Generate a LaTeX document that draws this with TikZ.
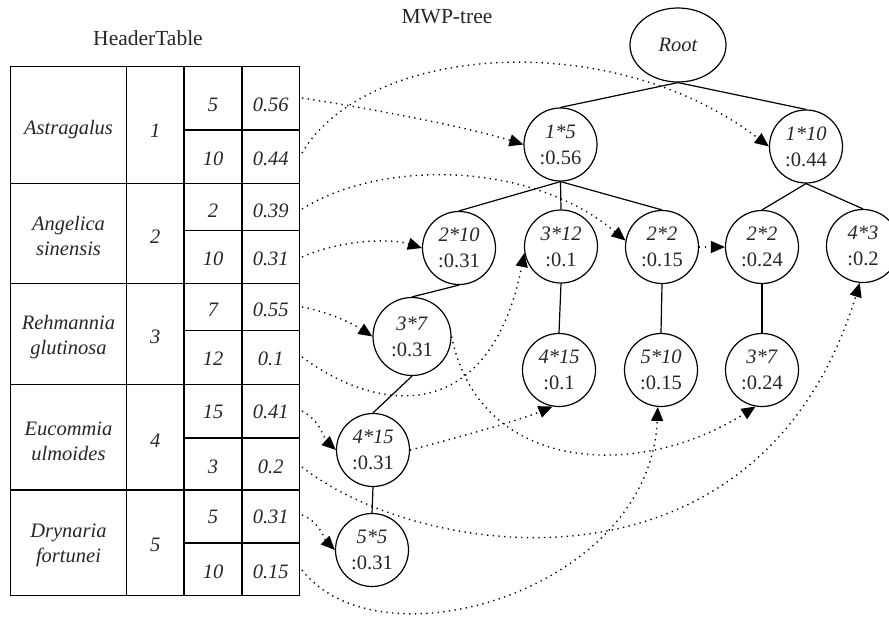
\documentclass[tikz,border=0pt]{standalone}
\usepackage{fontspec}
\setmainfont{Liberation Serif}
\usetikzlibrary{arrows.meta,shapes.geometric}
\begin{document}
\begin{tikzpicture}[x=1pt,y=-1pt,
  every node/.style={font=\fontsize{20.5}{26}\selectfont, inner sep=0pt, text=black!85},
  circ/.style={circle, draw, line width=1.2pt, minimum size=73pt, align=center},
  treeedge/.style={line width=1.2pt},
  grid/.style={line width=1.3pt},
  lnk/.style={line width=1.4pt, dash pattern=on 1.3pt off 4.4pt, -{Triangle[length=14pt,width=12pt]}},
  celltext/.style={font=\fontsize{20.5}{25}\selectfont\itshape, align=center},
  titletext/.style={font=\fontsize{21.5}{26}\selectfont},
]
\useasboundingbox (0,0) rectangle (889,629);

% titles
\node[titletext] (ht) at (148,38) {HeaderTable};
\node[titletext] (mt) at (447,17) {MWP-tree};

% table grid
\draw[grid] (10.5,66.7) rectangle (299.5,595.7);
\foreach \xx in {126.5,184,242} \draw[grid] (\xx,66.7) -- (\xx,595.7);
\foreach \yy in {183.7,283.3,384.3,490} \draw[grid] (10.5,\yy) -- (299.5,\yy);
\foreach \yy in {130,230.7,330.7,438,543} \draw[grid] (184,\yy) -- (299.5,\yy);

% table texts
\node[celltext] (h1) at (68.5,130) {Astragalus};
\node[celltext] (h2) at (68.5,236) {Angelica\\sinensis};
\node[celltext] (h3) at (68.5,337) {Rehmannia\\glutinosa};
\node[celltext] (h4) at (68.5,441) {Eucommia\\ulmoides};
\node[celltext] (h5) at (68.5,545) {Drynaria\\fortunei};
\node[celltext] (i1) at (155.3,131) {1};
\node[celltext] (i2) at (155.3,236.7) {2};
\node[celltext] (i3) at (155.3,336.7) {3};
\node[celltext] (i4) at (155.3,441) {4};
\node[celltext] (i5) at (155.3,545) {5};

\node[celltext] (a1) at (213,105) {5};    \node[celltext] (b1) at (270.7,105) {0.56};
\node[celltext] (a2) at (213,158.5) {10}; \node[celltext] (b2) at (270.7,158.5) {0.44};
\node[celltext] (a3) at (213,211) {2};    \node[celltext] (b3) at (270.7,211) {0.39};
\node[celltext] (a4) at (213,259) {10};   \node[celltext] (b4) at (270.7,259) {0.31};
\node[celltext] (a5) at (213,310) {7};    \node[celltext] (b5) at (270.7,310) {0.55};
\node[celltext] (a6) at (213,358.5) {12}; \node[celltext] (b6) at (270.7,358.5) {0.1};
\node[celltext] (a7) at (213,412) {15};   \node[celltext] (b7) at (270.7,412) {0.41};
\node[celltext] (a8) at (213,466.7) {3};  \node[celltext] (b8) at (270.7,466.7) {0.2};
\node[celltext] (a9) at (213,517) {5};    \node[celltext] (b9) at (270.7,517) {0.31};
\node[celltext] (a10) at (213,571.5) {10};\node[celltext] (b10) at (270.7,571.5) {0.15};

% link start points
\coordinate (s1) at (302,98);
\coordinate (s2) at (302,153);
\coordinate (s3) at (302,209);
\coordinate (s4) at (302,257);
\coordinate (s5) at (302,307);
\coordinate (s6) at (302,357);
\coordinate (s7) at (302,411);
\coordinate (s8) at (302,467);
\coordinate (s9) at (302,515);
\coordinate (s10) at (302,570);

% tree nodes
\node[ellipse, draw, line width=1.2pt, minimum width=96pt, minimum height=74pt, font=\fontsize{20.5}{26}\selectfont\itshape] (root) at (678,45) {Root};
\node[circ] (n15)  at (560.5,144.5) {\textit{1*5}\\:0.56};
\node[circ] (n110) at (806,146.5)   {\textit{1*10}\\:0.44};
\node[circ] (n210) at (459,248)     {\textit{2*10}\\:0.31};
\node[circ] (n312) at (561,246.5)   {\textit{3*12}\\:0.1};
\node[circ] (n22a) at (662,247)     {\textit{2*2}\\:0.15};
\node[circ] (n22b) at (762,247)     {\textit{2*2}\\:0.24};
\node[circ] (n43)  at (863,246)     {\textit{4*3}\\:0.2};
\node[circ, minimum size=78pt] (n37a) at (412,336.5) {\textit{3*7}\\:0.31};
\node[circ] (n415m) at (559,370)    {\textit{4*15}\\:0.1};
\node[circ] (n510) at (661,370)     {\textit{5*10}\\:0.15};
\node[circ] (n37b) at (762,370)     {\textit{3*7}\\:0.24};
\node[circ] (n415a) at (373,450)    {\textit{4*15}\\:0.31};
\node[circ] (n55)  at (372,550)     {\textit{5*5}\\:0.31};

% tree edges
\draw[treeedge] (root.south) -- (n15.north);
\draw[treeedge] (root.south) -- (n110.north);
\draw[treeedge] (n15.south) -- (n210.north);
\draw[treeedge] (n15.south) -- (n312.north);
\draw[treeedge] (n15.south) -- (n22a.north);
\draw[treeedge] (n110.south) -- (n22b.north);
\draw[treeedge] (n110.south) -- (n43.north);
\draw[treeedge] (n210.south) -- (n37a.north);
\draw[treeedge] (n312.south) -- (n415m.north);
\draw[treeedge] (n22a.south) -- (n510.north);
\draw[treeedge] (n22b.south) -- (n37b.north);
\draw[treeedge] (n37a.south) -- (n415a.north);
\draw[treeedge] (n415a.south) -- (n55.north);

% dotted links
\draw[lnk] (s1) .. controls (380,110) and (470,128) .. (n15.west);
\draw[lnk] (s2) .. controls (365,45) and (610,25) .. (n110.west);
\draw[lnk] (s3) .. controls (380,160) and (530,160) .. (n22a.170);
\draw[lnk] (s4) .. controls (340,240) and (390,238) .. (n210.west);
\draw[lnk] (n22a.east) -- (n22b.west);
\draw[lnk] (s5) .. controls (330,312) and (355,325) .. (n37a.west);
\draw[lnk] (s6) .. controls (380,415) and (490,425) .. (n312.190);
\draw[lnk] (n37a.east) .. controls (480,475) and (640,480) .. (n37b.-100);
\draw[lnk] (s7) .. controls (320,420) and (325,440) .. (n415a.west);
\draw[lnk] (n415a.east) .. controls (460,437) and (520,420) .. (n415m.-100);
\draw[lnk] (s8) .. controls (420,560) and (760,610) .. (n43.-95);
\draw[lnk] (s9) .. controls (320,522) and (325,540) .. (n55.west);
\draw[lnk] (s10) .. controls (380,670) and (650,590) .. (n510.-95);
\end{tikzpicture}
\end{document}
